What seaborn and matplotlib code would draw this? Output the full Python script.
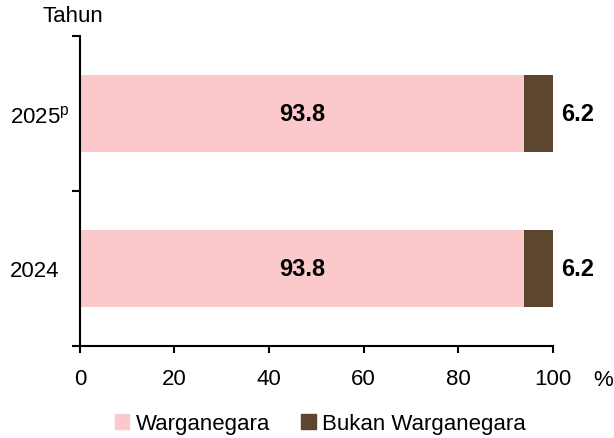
import pandas as pd
import seaborn as sns
import matplotlib.pyplot as plt

tahun = ['2025$^{\\mathregular{p}}$', '2024']
warganegara = [93.8, 93.8]
bukan_warganegara = [6.2, 6.2]

pink = '#FBC8CC'
brown = '#5C4630'

sns.set_style('white')
plt.rcParams['font.family'] = ['Liberation Sans', 'DejaVu Sans']
plt.rcParams['text.color'] = 'black'
plt.rcParams['xtick.color'] = 'black'
plt.rcParams['ytick.color'] = 'black'

df = pd.DataFrame({'tahun': tahun, 'wn': warganegara, 'bwn': bukan_warganegara})
df['total'] = df['wn'] + df['bwn']

fig = plt.figure(figsize=(6.14, 4.39), dpi=100)
ax = fig.add_axes([0.130, 0.2096, 0.7707, 0.7061])

sns.barplot(data=df, y='tahun', x='total', color=brown, width=0.5, ax=ax,
            saturation=1, order=tahun, linewidth=0)
sns.barplot(data=df, y='tahun', x='wn', color=pink, width=0.5, ax=ax,
            saturation=1, order=tahun, linewidth=0)

ax.bar_label(ax.containers[1], labels=[f'{v:.1f}' for v in df['wn']],
             label_type='center', fontsize=17, fontweight='bold')
ax.bar_label(ax.containers[0], labels=[f'{v:.1f}' for v in df['bwn']],
             padding=6, fontsize=17, fontweight='bold')

ax.set_xlim(0, 100)
ax.set_ylim(1.5, -0.5)
ax.set_xticks([0, 20, 40, 60, 80, 100])
ax.set_yticks([-0.5, 0.5, 1.5])
ax.set_yticklabels([])
ax.set_yticks([0, 1], minor=True)
ax.set_yticklabels(tahun, minor=True)
ax.tick_params(axis='y', which='minor', length=0, pad=50.5, labelsize=16)
for lab in ax.get_yticklabels(minor=True):
    lab.set_horizontalalignment('left')
ax.tick_params(axis='y', which='major', length=6, width=1.5, direction='out', left=True)
ax.tick_params(axis='x', length=5, width=1.5, direction='out', bottom=True, labelsize=16, pad=11)
ax.set_xlabel('')
ax.set_ylabel('')

for s in ['top', 'right']:
    ax.spines[s].set_visible(False)
for s in ['left', 'bottom']:
    ax.spines[s].set_linewidth(1.5)
    ax.spines[s].set_color('black')

fig.text(0.118, 0.962, 'Tahun', ha='center', va='center', fontsize=16)
fig.text(0.982, 0.134, '%', ha='center', va='center', fontsize=16)

handles = [plt.Rectangle((0, 0), 1, 1, color=pink), plt.Rectangle((0, 0), 1, 1, color=brown)]
fig.legend(handles, ['Warganegara', 'Bukan Warganegara'], loc='center',
           bbox_to_anchor=(0.522, 0.033), ncol=2, frameon=False, fontsize=16,
           handlelength=0.65, handleheight=0.65, handletextpad=0.3, columnspacing=1.4)

fig.savefig('out.png', dpi=100)
